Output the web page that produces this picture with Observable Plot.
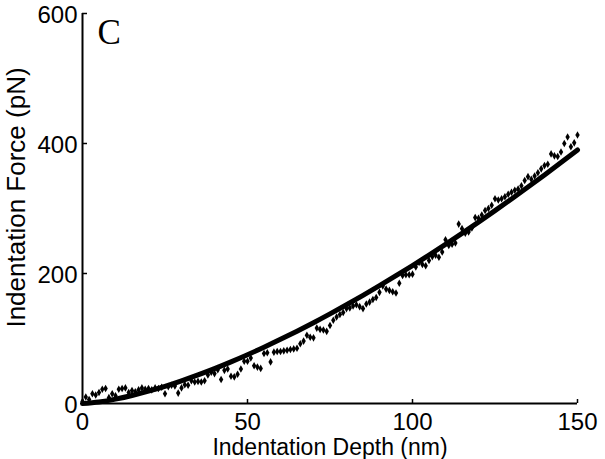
<!DOCTYPE html>
<html>
<head>
<meta charset="utf-8">
<script src="https://cdn.jsdelivr.net/npm/d3@7"></script>
<script src="https://cdn.jsdelivr.net/npm/@observablehq/plot@0.6"></script>
<style>
  html, body { margin: 0; padding: 0; background: white; }
  #chart { width: 605px; height: 459px; }
</style>
</head>
<body>
<div id="chart"></div>
<script>
// Measured data points: indentation depth (nm) and force (pN)
const depth = [
  0,1,2,3,4,5,6,7,8,9,10,11,12,13,14,15,16,17,18,19,20,21,22,23,24,25,26,27,28,29,
  30,31,32,33,34,35,36,37,38,39,40,41,42,43,44,45,46,47,48,49,50,51,52,53,54,55,56,57,58,59,
  60,61,62,63,64,65,66,67,68,69,70,71,72,73,74,75,76,77,78,79,80,81,82,83,84,85,86,87,88,89,
  90,91,92,93,94,95,96,97,98,99,100,101,102,103,104,105,106,107,108,109,110,111,112,113,114,115,116,117,118,119,
  120,121,122,123,124,125,126,127,128,129,130,131,132,133,134,135,136,137,138,139,140,141,142,143,144,145,146,147,148,149,150
];
const force = [
  3,10,6,15,13,17,22,23,9,15,12,22,23,24,17,20,18,21,24,22,23,21,24,23,25,15,26,28,27,16,
  24,29,28,35,33,34,33,35,44,48,46,52,37,51,53,42,41,45,53,65,65,70,58,56,54,77,78,64,79,80,
  80,81,82,83,84,85,92,96,105,102,101,116,114,113,111,120,128,133,137,140,146,147,150,152,149,146,153,156,160,163,
  171,181,176,174,172,170,185,197,198,198,199,210,217,214,212,220,226,228,225,233,252,243,245,247,276,269,262,264,270,286,
  285,290,297,300,305,315,313,315,318,322,325,328,330,335,343,349,345,350,355,361,366,368,384,381,380,387,400,410,395,401,413
];
// Fitted curve
const fitDepth = [0,5,10,15,20,25,30,35,40,45,50,55,60,65,70,75,80,85,90,95,100,105,110,115,120,125,130,135,140,145,150];
const fitForce = [0,2.4,6.7,12.3,19,26.5,34.9,44,53.7,64.1,75.1,86.6,98.7,111.3,124.3,137.9,151.9,166.4,181.3,196.6,212.3,228.4,244.9,261.8,279.1,296.7,314.7,333,351.7,370.7,390];

const xTicks = [0, 50, 100, 150];
const yTicks = [0, 200, 400, 600];
const xLabel = "Indentation Depth (nm)";
const yLabel = "Indentation Force (pN)";
const panelLetter = "C";

const points = depth.map((d, i) => ({depth: d, force: force[i]}));
const fit = fitDepth.map((d, i) => ({depth: d, force: fitForce[i]}));

const chart = Plot.plot({
  width: 605,
  height: 459,
  marginLeft: 82,
  marginRight: 28,
  marginTop: 13,
  marginBottom: 56,
  style: {fontFamily: "'Liberation Sans', Arial, sans-serif", fontSize: "24px", color: "black", background: "white"},
  x: {domain: [0, 150]},
  y: {domain: [0, 600]},
  marks: [
    Plot.dot(points, {x: "depth", y: "force", symbol: "diamond", r: 2.3, fill: "black", stroke: "none"}),
    Plot.line(fit, {x: "depth", y: "force", stroke: "black", strokeWidth: 5, curve: "natural"}),
    Plot.ruleX([0], {y1: 0, y2: 600, stroke: "black", strokeWidth: 2}),
    Plot.ruleY([0], {x1: 0, x2: 150, stroke: "black", strokeWidth: 2}),
    Plot.axisX(xTicks, {tickSize: -4, tickFormat: () => "", label: null, strokeWidth: 1.5}),
    Plot.axisX(xTicks, {tickSize: 0, tickPadding: 9, label: null, fontSize: 24}),
    Plot.axisY(yTicks, {tickSize: -5, tickFormat: () => "", label: null, strokeWidth: 1.5}),
    Plot.axisY(yTicks, {tickSize: 0, tickPadding: 5, label: null, fontSize: 24, dy: 2}),
    Plot.text([xLabel], {frameAnchor: "bottom", textAnchor: "middle", lineAnchor: "top", dy: 35, fontSize: 23}),
    Plot.text([yLabel], {frameAnchor: "left", textAnchor: "middle", lineAnchor: "top", rotate: -90, dx: -76, dy: -11, fontSize: 26}),
    Plot.text([panelLetter], {frameAnchor: "top-left", textAnchor: "start", lineAnchor: "top", dx: 15, dy: 6, fontSize: 35, fontFamily: "'Liberation Serif', 'Times New Roman', serif"})
  ]
});
document.getElementById("chart").appendChild(chart);
</script>
</body>
</html>
